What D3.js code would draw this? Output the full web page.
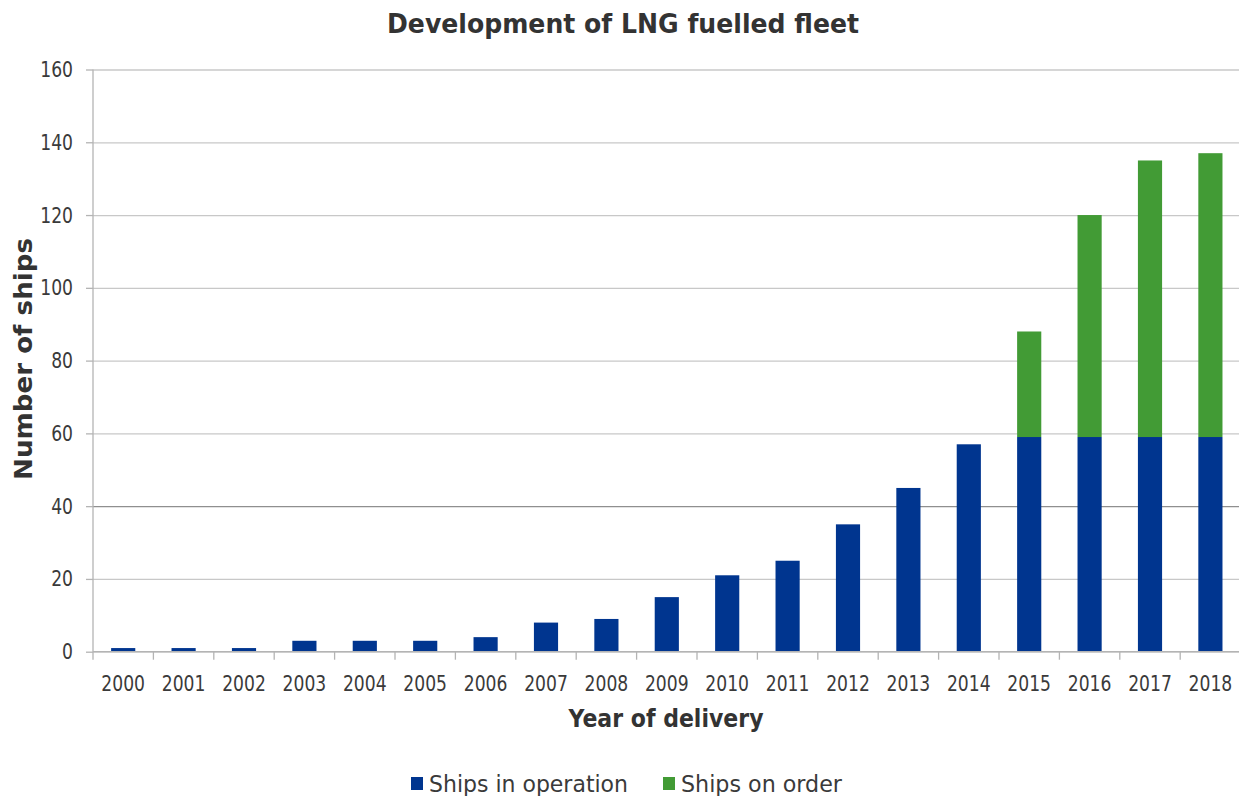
<!DOCTYPE html>
<html>
<head>
<meta charset="utf-8">
<script src="https://cdn.jsdelivr.net/npm/d3@7"></script>
<style>
  body { margin: 0; background: #fff; }
  text { font-family: "DejaVu Sans", Verdana, sans-serif; }
</style>
</head>
<body>
<svg id="myGraph" width="1239" height="796"></svg>
<script>
var years = ["2000","2001","2002","2003","2004","2005","2006","2007","2008","2009",
             "2010","2011","2012","2013","2014","2015","2016","2017","2018"];
var inOperation = [1, 1, 1, 3, 3, 3, 4, 8, 9, 15, 21, 25, 35, 45, 57, 59, 59, 59, 59];
var onOrder     = [0, 0, 0, 0, 0, 0, 0, 0, 0, 0, 0, 0, 0, 0, 0, 29, 61, 76, 78];
var seriesNames = ["Ships in operation", "Ships on order"];
var yTicks = [0, 20, 40, 60, 80, 100, 120, 140, 160];

var colors = ["#00358f", "#429b35"];
var textColor = "#3a3a3a";

var svg = d3.select("#myGraph");
var plotLeft = 93, plotTop = 69.5, plotBottom = 651.7, step = 60.4;

// squeeze text horizontally (reference text is narrow)
function squeeze(sel, k) {
  sel.each(function() {
    var w = this.getComputedTextLength();
    d3.select(this).attr("textLength", w * k).attr("lengthAdjust", "spacingAndGlyphs");
  });
}
function fitWidth(sel, w) {
  sel.attr("textLength", w).attr("lengthAdjust", "spacingAndGlyphs");
}

var x = d3.scaleBand()
  .domain(years)
  .range([plotLeft, plotLeft + step * years.length])
  .paddingInner(0.6)
  .paddingOuter(0.3);

var y = d3.scaleLinear().domain([0, 160]).range([plotBottom, plotTop]);

// 그리드
var yAxis = svg.append("g")
  .attr("transform", "translate(" + plotLeft + ",0)")
  .call(d3.axisLeft(y).tickValues(yTicks).tickSize(7).tickPadding(13).tickFormat(d3.format("d")));
yAxis.select(".domain").remove();
yAxis.selectAll(".tick line").attr("stroke", "#b4b4b4").attr("stroke-width", 1.3);
yAxis.selectAll(".tick").append("line")
  .attr("x1", 0).attr("x2", 1239 - plotLeft)
  .attr("stroke", function(d) { return d === 40 ? "#8f8f8f" : "#c8c8c8"; })
  .attr("stroke-width", 1.3);
yAxis.selectAll(".tick text")
  .attr("fill", textColor).style("font-size", "22px")
  .call(squeeze, 0.78);

// stacked bars
var rows = years.map(function(yr, i) {
  return { year: yr, op: inOperation[i], order: onOrder[i] };
});
var stacked = d3.stack().keys(["op", "order"])(rows);

svg.append("g").selectAll("g")
  .data(stacked)
  .enter().append("g")
  .attr("fill", function(d, i) { return colors[i]; })
  .selectAll("rect")
  .data(function(d) { return d; })
  .enter().append("rect")
  .attr("x", function(d) { return x(d.data.year); })
  .attr("width", x.bandwidth())
  .attr("y", function(d) { return y(d[1]); })
  .attr("height", function(d) { return y(d[0]) - y(d[1]); });

// axis lines
svg.append("line")
  .attr("x1", plotLeft).attr("x2", plotLeft).attr("y1", plotTop).attr("y2", plotBottom + 8)
  .attr("stroke", "#b4b4b4").attr("stroke-width", 1.3);
svg.append("line")
  .attr("x1", plotLeft).attr("x2", 1239).attr("y1", plotBottom).attr("y2", plotBottom)
  .attr("stroke", "#b4b4b4").attr("stroke-width", 1.3);

// x ticks between bands
var gap = (x.step() - x.bandwidth()) / 2;
svg.append("g").selectAll("line")
  .data(years)
  .enter().append("line")
  .attr("x1", function(d) { return x(d) + x.bandwidth() + gap; })
  .attr("x2", function(d) { return x(d) + x.bandwidth() + gap; })
  .attr("y1", plotBottom).attr("y2", plotBottom + 8)
  .attr("stroke", "#b4b4b4").attr("stroke-width", 1.3);

svg.append("g").selectAll("text")
  .data(years)
  .enter().append("text")
  .attr("x", function(d) { return x(d) + x.bandwidth() / 2; })
  .attr("y", plotBottom + 39)
  .attr("text-anchor", "middle")
  .attr("fill", textColor)
  .style("font-size", "22px")
  .text(function(d) { return d; })
  .call(squeeze, 0.78);

// titles
svg.append("text")
  .attr("x", 623).attr("y", 33)
  .attr("text-anchor", "middle")
  .attr("fill", "#333").style("font-size", "27px").style("font-weight", "bold")
  .text("Development of LNG fuelled fleet")
  .call(fitWidth, 472);

svg.append("text")
  .attr("x", 666).attr("y", 727)
  .attr("text-anchor", "middle")
  .attr("fill", "#333").style("font-size", "25px").style("font-weight", "bold")
  .text("Year of delivery")
  .call(fitWidth, 195);

svg.append("text")
  .attr("transform", "translate(32,359) rotate(-90)")
  .attr("text-anchor", "middle")
  .attr("fill", "#333").style("font-size", "24px").style("font-weight", "bold")
  .text("Number of ships")
  .call(fitWidth, 242);

// legend
var legendX = [411, 663];
var legendW = [199, 161];
var legend = svg.append("g").selectAll("g")
  .data(seriesNames)
  .enter().append("g")
  .attr("transform", function(d, i) { return "translate(" + legendX[i] + ",0)"; });
legend.append("rect")
  .attr("x", 0).attr("y", 777).attr("width", 12).attr("height", 13)
  .attr("fill", function(d, i) { return colors[i]; });
legend.append("text")
  .attr("x", 18).attr("y", 792)
  .attr("fill", textColor).style("font-size", "23px")
  .text(function(d) { return d; })
  .each(function(d, i) { d3.select(this).call(fitWidth, legendW[i]); });
</script>
</body>
</html>
